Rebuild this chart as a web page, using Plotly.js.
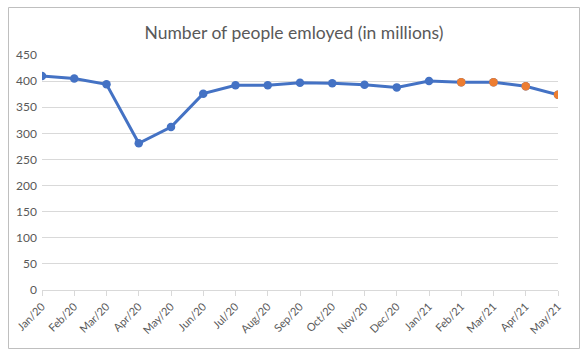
<!DOCTYPE html>
<html>
<head>
<meta charset="utf-8">
<script src="https://cdn.plot.ly/plotly-3.0.1.min.js"></script>
<style>
  html, body { margin: 0; padding: 0; background: #fff; }
  #chart { width: 588px; height: 354px; }
</style>
</head>
<body>
<div id="chart"></div>
<script>
const months = ['Jan/20','Feb/20','Mar/20','Apr/20','May/20','Jun/20','Jul/20','Aug/20','Sep/20','Oct/20','Nov/20','Dec/20','Jan/21','Feb/21','Mar/21','Apr/21','May/21'];
const employed = [410, 405, 394, 281, 312, 376, 392, 392, 397, 396, 393, 388, 400, 398, 398, 390, 374];
const highlightedMonths = ['Feb/21','Mar/21','Apr/21','May/21'];

const blue = '#4472C4';
const orange = '#ED7D31';
const idx = months.map((_, i) => i);

const mainTrace = {
  x: idx,
  y: employed,
  type: 'scatter',
  mode: 'lines+markers',
  line: { color: blue, width: 3 },
  marker: { color: blue, size: 8.5 },
  hoverinfo: 'skip'
};

const hlX = [], hlY = [];
months.forEach((m, i) => { if (highlightedMonths.includes(m)) { hlX.push(i); hlY.push(employed[i]); } });
const hlTrace = {
  x: hlX, y: hlY, type: 'scatter', mode: 'markers',
  marker: { color: orange, size: 8.5 },
  hoverinfo: 'skip'
};

const W = 588, H = 354;
const m = { l: 42, r: 30, t: 55, b: 64 };
const pw = W - m.l - m.r, ph = H - m.t - m.b;
const px = x => (x - m.l) / pw;
const py = y => 1 - (y - m.t) / ph;

const layout = {
  width: W, height: H,
  margin: m,
  paper_bgcolor: '#ffffff',
  plot_bgcolor: '#ffffff',
  showlegend: false,
  font: { family: 'Lato, "Open Sans", sans-serif', color: '#595959', size: 11 },
  title: {
    text: 'Number of people emloyed (in millions)',
    font: { family: 'Lato, "Open Sans", sans-serif', size: 17.5, color: '#595959' },
    x: 0.5, xref: 'container', xanchor: 'center',
    y: 1 - 33 / H, yref: 'container', yanchor: 'middle'
  },
  xaxis: {
    range: [0, months.length - 1],
    tickmode: 'array',
    tickvals: idx,
    ticktext: months,
    tickangle: -45,
    ticks: 'outside', ticklen: 5, tickcolor: '#D9D9D9', tickwidth: 1,
    showline: true, linecolor: '#D9D9D9', linewidth: 1,
    showgrid: false, zeroline: false,
    tickfont: { size: 11, color: '#595959' },
    fixedrange: true
  },
  yaxis: {
    range: [0, 450],
    dtick: 50,
    tick0: 0,
    showgrid: true, gridcolor: '#D9D9D9', gridwidth: 1,
    zeroline: false, showline: false, ticks: '',
    ticklabelstandoff: 4,
    tickfont: { size: 12, color: '#595959' },
    fixedrange: true
  },
  shapes: [{
    type: 'rect', xref: 'paper', yref: 'paper',
    x0: px(8.5), x1: px(579.5), y0: py(7.5), y1: py(348.5),
    line: { color: '#BFBFBF', width: 1 }, fillcolor: 'rgba(0,0,0,0)', layer: 'below'
  }]
};

Plotly.newPlot('chart', [mainTrace, hlTrace], layout, { staticPlot: true, displayModeBar: false });
</script>
</body>
</html>
